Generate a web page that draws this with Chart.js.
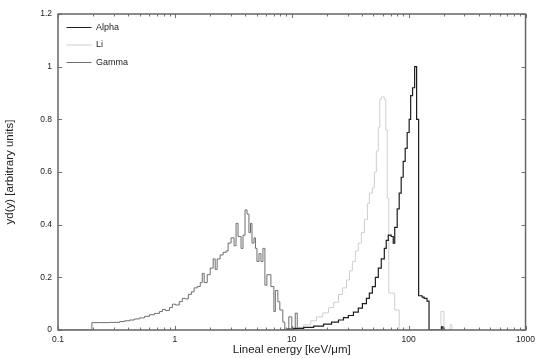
<!DOCTYPE html>
<html>
<head>
<meta charset="utf-8">
<script src="https://cdn.jsdelivr.net/npm/chart.js@4.4.0/dist/chart.umd.min.js"></script>
<style>
  html, body { margin: 0; padding: 0; background: #fff; }
</style>
</head>
<body>
<canvas id="chart" width="540" height="358"></canvas>
<script>
// Histogram steps: x = left edge of each bin (keV/um), y = yd(y)
const gammaX = [0.1, 0.195, 0.227, 0.277, 0.337, 0.372, 0.41, 0.452, 0.499, 0.55, 0.607, 0.669, 0.738, 0.783, 0.83,
  0.898, 0.952, 1.01, 1.09, 1.158, 1.229, 1.303, 1.382, 1.46, 1.554, 1.648, 1.714, 1.78, 1.891, 2.005, 2.127, 2.212,
  2.3, 2.439, 2.587, 2.744, 2.853, 3.026, 3.21, 3.338, 3.471, 3.681, 3.828, 3.981, 4.14, 4.3, 4.436, 4.566, 4.75,
  4.891, 5.036, 5.24, 5.447, 5.665, 5.891, 6.126, 6.626, 7.03, 7.237, 7.601, 7.905, 8.383, 8.718, 9.43, 10.0, 10.71, 11.14];
const gammaY = [0, 0.028, 0.028, 0.029, 0.032, 0.035, 0.038, 0.042, 0.046, 0.052, 0.058, 0.063, 0.07, 0.078, 0.074,
  0.085, 0.098, 0.095, 0.108, 0.12, 0.118, 0.135, 0.145, 0.16, 0.165, 0.18, 0.215, 0.18, 0.21, 0.235, 0.27, 0.23,
  0.27, 0.285, 0.295, 0.3, 0.33, 0.35, 0.32, 0.405, 0.355, 0.31, 0.36, 0.456, 0.44, 0.37, 0.405, 0.33, 0.35,
  0.31, 0.26, 0.29, 0.26, 0.31, 0.17, 0.21, 0.165, 0.07, 0.15, 0.107, 0.076, 0.03, 0, 0.05, 0, 0.064, 0];

const alphaX = [8, 9.06, 10.4, 12.65, 15.4, 18.7, 21.9, 25.1, 27.7, 30.5, 33.7, 37.1, 40.2, 43.5, 46.1, 48.9, 51.9,
  55.0, 58.3, 61.9, 64.3, 66.9, 70.9, 73.8, 76.0, 79.8, 83.0, 86.3, 89.8, 93.4, 97.1, 101, 104, 108, 112.5, 117,
  121.7, 130.3, 135.5, 143.6, 149.4, 191, 196.6];
const alphaY = [0, 0.003, 0.006, 0.01, 0.015, 0.022, 0.03, 0.038, 0.047, 0.055, 0.068, 0.083, 0.1, 0.12, 0.14, 0.165, 0.2,
  0.235, 0.27, 0.31, 0.34, 0.36, 0.355, 0.33, 0.39, 0.46, 0.52, 0.58, 0.64, 0.69, 0.75, 0.8, 0.89, 0.92, 1.0, 0.8,
  0.13, 0.125, 0.12, 0.11, 0, 0.012, 0];

const liX = [9, 10.0, 11.03, 12.65, 14.5, 16.3, 18.4, 20.6, 22.8, 25.1, 27.2, 29.4, 31.2, 33.0, 35.0, 37.1, 39.4, 41.8,
  44.4, 46.1, 48.9, 50.9, 52.9, 55.0, 56.6, 58.3, 61.9, 63.7, 65.6, 67.6, 70.9, 76.0, 83.0, 189, 200.5, 225.6, 234.4];
const liY = [0, 0.005, 0.01, 0.02, 0.035, 0.05, 0.065, 0.085, 0.105, 0.135, 0.16, 0.19, 0.225, 0.26, 0.3, 0.33, 0.37, 0.42,
  0.48, 0.52, 0.54, 0.6, 0.68, 0.77, 0.875, 0.885, 0.875, 0.76, 0.5, 0.14, 0.14, 0.076, 0, 0.07, 0, 0.02, 0];

const seriesNames = ['Alpha', 'Li', 'Gamma'];
const seriesColors = ['#1e1e1e', '#cfcfcf', '#6e6e6e'];

const xMajor = [0.1, 1, 10, 100, 1000];
const xMinorSteps = [2, 3, 4, 5, 6, 7, 8, 9];
const yTicks = [0, 0.2, 0.4, 0.6, 0.8, 1, 1.2];

const FONT = 'Liberation Sans, Arial, sans-serif';

function toPoints(xs, ys) {
  return xs.map((x, i) => ({x: x, y: ys[i]}));
}

// gnuplot-like frame with ticks pointing inwards on all four sides
const framePlugin = {
  id: 'frame',
  afterDatasetsDraw(chart) {
    const {ctx, chartArea: a, scales} = chart;
    ctx.save();
    ctx.strokeStyle = '#707070';
    ctx.lineWidth = 1;
    ctx.beginPath();
    scales.x.ticks.forEach(t => {
      const px = Math.round(scales.x.getPixelForValue(t.value)) + 0.5;
      const len = xMajor.includes(t.value) ? 4 : 2.5;
      ctx.moveTo(px, a.bottom); ctx.lineTo(px, a.bottom - len);
      ctx.moveTo(px, a.top); ctx.lineTo(px, a.top + len);
    });
    scales.y.ticks.forEach(t => {
      const py = Math.round(scales.y.getPixelForValue(t.value)) + 0.5;
      ctx.moveTo(a.left, py); ctx.lineTo(a.left + 4, py);
      ctx.moveTo(a.right, py); ctx.lineTo(a.right - 4, py);
    });
    ctx.stroke();
    ctx.lineWidth = 1.5;
    ctx.strokeStyle = '#666';
    ctx.strokeRect(a.left, a.top, a.right - a.left, a.bottom - a.top);
    ctx.restore();
  }
};

const datasets = [
  toPoints(alphaX, alphaY),
  toPoints(liX, liY),
  toPoints(gammaX, gammaY)
].map((pts, i) => ({
  label: seriesNames[i],
  data: pts,
  borderColor: seriesColors[i],
  backgroundColor: seriesColors[i],
  borderWidth: i === 0 ? 1.2 : 1,
  stepped: true,
  pointRadius: 0,
  tension: 0,
  fill: false
}));

new Chart(document.getElementById('chart'), {
  type: 'line',
  data: {datasets: datasets},
  options: {
    responsive: false,
    animation: false,
    layout: {padding: {left: 0, top: 14, right: 12, bottom: 0}},
    plugins: {
      tooltip: {enabled: false},
      legend: {
        position: 'chartArea',
        align: 'start',
        title: {display: true, text: ' ', font: {size: 10}, padding: {top: 2.5, bottom: 0}},
        labels: {
          usePointStyle: true,
          pointStyle: 'line',
          pointStyleWidth: 25,
          boxHeight: 7.5,
          padding: 8.5,
          color: '#222',
          font: {family: FONT, size: 9}
        }
      }
    },
    scales: {
      x: {
        type: 'logarithmic',
        min: 0.1,
        max: 1000,
        afterBuildTicks: scale => {
          const vals = [];
          xMajor.forEach((m, i) => {
            vals.push(m);
            if (i < xMajor.length - 1) xMinorSteps.forEach(s => vals.push(m * s));
          });
          scale.ticks = vals.map(v => ({value: v}));
        },
        afterFit: scale => { scale.height = 28; },
        grid: {display: false, drawTicks: false},
        border: {display: false},
        ticks: {
          autoSkip: false,
          maxRotation: 0,
          padding: 5,
          color: '#222',
          font: {family: FONT, size: 8.5},
          callback: v => xMajor.includes(v) ? String(v) : ''
        },
        title: {
          display: true,
          text: 'Lineal energy [keV/\u03bcm]',
          color: '#222',
          font: {family: FONT, size: 11.5},
          padding: {top: 0, bottom: 1}
        }
      },
      y: {
        min: 0,
        max: 1.2,
        afterBuildTicks: scale => { scale.ticks = yTicks.map(v => ({value: v})); },
        afterFit: scale => { scale.width = 58; },
        grid: {display: false, drawTicks: false},
        border: {display: false},
        ticks: {
          padding: 6,
          color: '#222',
          font: {family: FONT, size: 8.5},
          callback: v => String(v)
        },
        title: {
          display: true,
          text: 'yd(y) [arbitrary units]',
          color: '#222',
          font: {family: FONT, size: 11.5},
          padding: {top: 3, bottom: 0}
        }
      }
    }
  },
  plugins: [framePlugin]
});
</script>
</body>
</html>
